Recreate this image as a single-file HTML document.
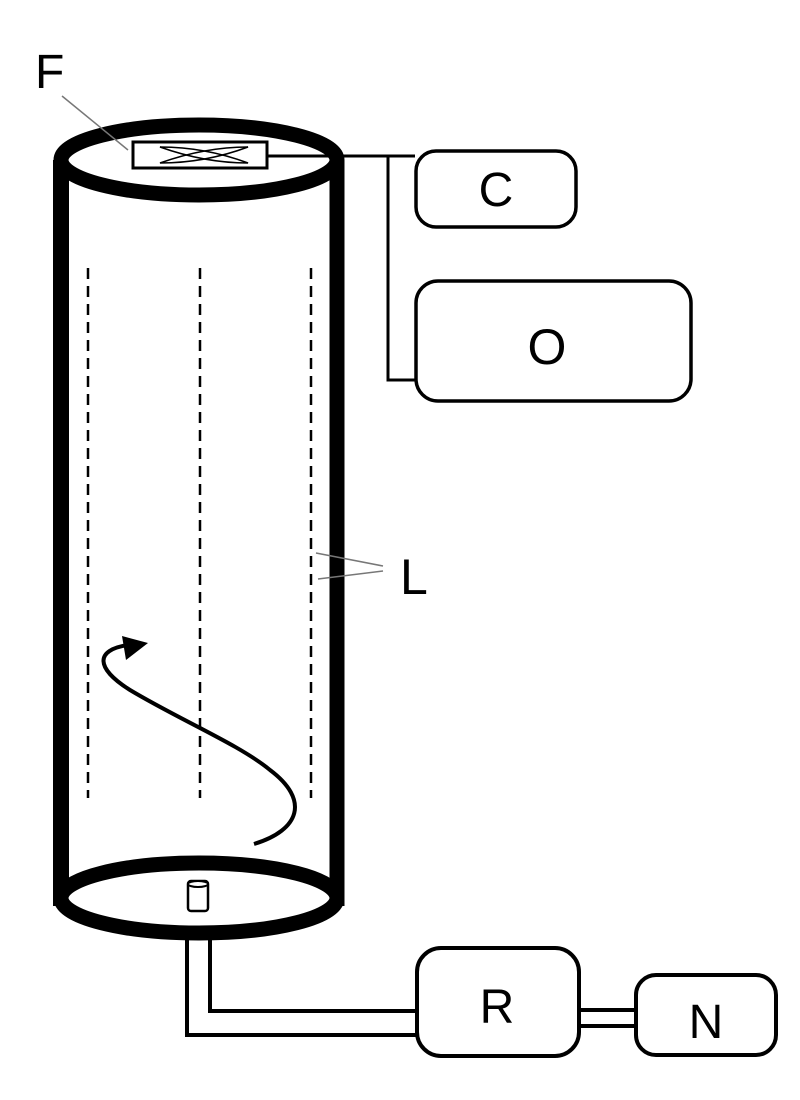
<!DOCTYPE html>
<html><head><meta charset="utf-8"><style>
html,body{margin:0;padding:0;background:#fff;}
svg{display:block;}
text{font-family:"Liberation Sans",Arial,sans-serif;fill:#000;}
</style></head><body>
<svg width="800" height="1100" viewBox="0 0 800 1100" xmlns="http://www.w3.org/2000/svg">
<line x1="61" y1="160" x2="61" y2="906" stroke="#000" stroke-width="16"/>
<line x1="337" y1="160" x2="337" y2="906" stroke="#000" stroke-width="15"/>
<ellipse cx="199" cy="160" rx="138" ry="35" fill="#fff" stroke="#000" stroke-width="15"/>
<ellipse cx="199" cy="898" rx="138" ry="35" fill="#fff" stroke="#000" stroke-width="15"/>
<g stroke="#000" stroke-width="2.5" stroke-dasharray="11,7">
<line x1="88" y1="268" x2="88" y2="798"/>
<line x1="200" y1="268" x2="200" y2="798"/>
<line x1="311" y1="268" x2="311" y2="798"/>
</g>
<rect x="133" y="142" width="134" height="26" fill="#fff" stroke="#000" stroke-width="3"/>
<path d="M160,147 Q205,147 248,163 Q205,163 160,147 Z" fill="none" stroke="#000" stroke-width="1.6"/>
<path d="M160,163 Q205,163 248,147 Q205,147 160,163 Z" fill="none" stroke="#000" stroke-width="1.6"/>
<polyline points="267,156 415,156" fill="none" stroke="#000" stroke-width="3"/>
<polyline points="388,156 388,380 415,380" fill="none" stroke="#000" stroke-width="3"/>
<rect x="416" y="151" width="160" height="76" rx="20" fill="#fff" stroke="#000" stroke-width="3.5"/>
<text x="496" y="206" font-size="48" text-anchor="middle">C</text>
<rect x="416" y="281" width="275" height="120" rx="22" fill="#fff" stroke="#000" stroke-width="3.5"/>
<text x="547" y="364" font-size="50" text-anchor="middle">O</text>
<text x="35" y="88" font-size="48">F</text>
<line x1="62" y1="96" x2="128" y2="150" stroke="#777" stroke-width="1.5"/>
<text x="400" y="594" font-size="50">L</text>
<line x1="316" y1="553" x2="383" y2="566" stroke="#777" stroke-width="1.5"/>
<line x1="318" y1="579" x2="383" y2="571" stroke="#777" stroke-width="1.5"/>
<path d="M254,844 C300,830 310,800 270,770 C240,745 180,720 130,690 C95,668 95,650 128,645" fill="none" stroke="#000" stroke-width="4"/>
<polygon points="148,643 122,636 126,660" fill="#000"/>
<rect x="188" y="881" width="20" height="30" rx="3" fill="#fff" stroke="#000" stroke-width="2.5"/>
<ellipse cx="198" cy="884" rx="10" ry="3" fill="#fff" stroke="#000" stroke-width="2"/>
<polyline points="187,935 187,1035 416,1035" fill="none" stroke="#000" stroke-width="4"/>
<polyline points="210,935 210,1011 416,1011" fill="none" stroke="#000" stroke-width="4"/>
<rect x="417" y="948" width="162" height="108" rx="24" fill="#fff" stroke="#000" stroke-width="4"/>
<text x="497" y="1023" font-size="48" text-anchor="middle">R</text>
<line x1="579" y1="1010" x2="636" y2="1010" stroke="#000" stroke-width="4"/>
<line x1="579" y1="1026" x2="636" y2="1026" stroke="#000" stroke-width="4"/>
<rect x="636" y="975" width="140" height="80" rx="20" fill="#fff" stroke="#000" stroke-width="4"/>
<text x="706" y="1038" font-size="48" text-anchor="middle">N</text>
</svg>
</body></html>
